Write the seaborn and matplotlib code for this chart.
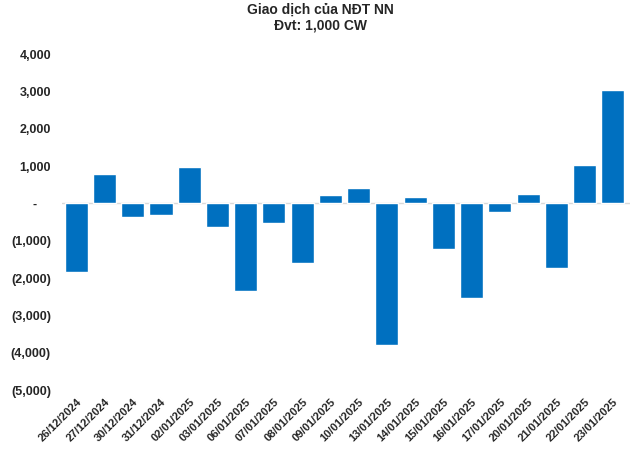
import pandas as pd
import seaborn as sns
import matplotlib.pyplot as plt
from matplotlib.ticker import FuncFormatter, MultipleLocator

# Dates and net foreign trading values (unit: 1,000 CW)
dates = ['26/12/2024', '27/12/2024', '30/12/2024', '31/12/2024', '02/01/2025',
         '03/01/2025', '06/01/2025', '07/01/2025', '08/01/2025', '09/01/2025',
         '10/01/2025', '13/01/2025', '14/01/2025', '15/01/2025', '16/01/2025',
         '17/01/2025', '20/01/2025', '21/01/2025', '22/01/2025', '23/01/2025']
values = [-1840, 800, -360, -310, 970,
          -630, -2350, -530, -1600, 220,
          410, -3780, 170, -1220, -2540,
          -230, 250, -1730, 1020, 3030]

df = pd.DataFrame({'date': dates, 'value': values})

sns.set_style('white')
plt.rcParams['font.family'] = ['Liberation Sans', 'DejaVu Sans']

fig = plt.figure(figsize=(6.4, 4.51), dpi=100)
ax = fig.add_axes([0.097, 0.135, 0.887, 0.745])

sns.barplot(data=df, x='date', y='value', color='#0070C0', saturation=1,
            width=0.82, ax=ax)

ax.axhline(0, color='#D9D9D9', linewidth=1, zorder=0)
ax.set_ylim(-5000, 4000)
ax.set_xlim(-0.5, len(dates) - 0.4)
ax.yaxis.set_major_locator(MultipleLocator(1000))


def fmt(v, pos):
    if abs(v) < 1e-9:
        return '-    '
    if v < 0:
        return '({:,.0f})'.format(-v)
    return '{:,.0f}'.format(v)


ax.yaxis.set_major_formatter(FuncFormatter(fmt))
ax.set_xlabel('')
ax.set_ylabel('')
for s in ax.spines.values():
    s.set_visible(False)
ax.tick_params(axis='both', length=0)
ax.tick_params(axis='y', pad=8)
ax.tick_params(axis='x', pad=5)
plt.setp(ax.get_yticklabels(), fontsize=9, fontweight='bold')
plt.setp(ax.get_xticklabels(), fontsize=8, fontweight='bold', rotation=45,
         ha='right', rotation_mode='anchor')

fig.suptitle('Giao dịch của NĐT NN\nĐvt: 1,000 CW', fontsize=10,
             fontweight='bold', y=0.995)

plt.savefig('out.png', dpi=100)
